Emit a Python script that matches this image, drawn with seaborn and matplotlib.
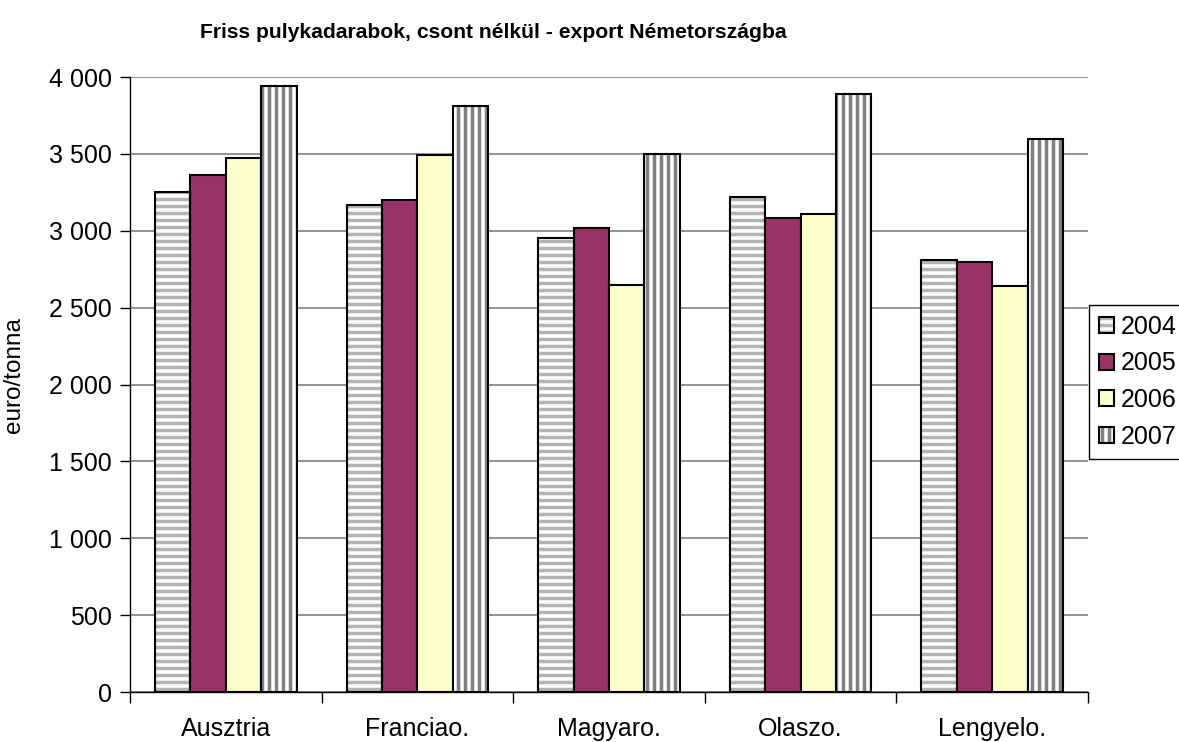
import numpy as np
import pandas as pd
import matplotlib
matplotlib.use('Agg')
import matplotlib.pyplot as plt
import seaborn as sns
from matplotlib.patches import Rectangle, Patch
from matplotlib.ticker import FuncFormatter, MultipleLocator

# adatok (euro/tonna)
countries = ['Ausztria', 'Franciao.', 'Magyaro.', 'Olaszo.', 'Lengyelo.']
years = ['2004', '2005', '2006', '2007']
v2004 = [3250, 3170, 2950, 3220, 2810]
v2005 = [3360, 3200, 3020, 3080, 2800]
v2006 = [3470, 3490, 2650, 3110, 2640]
v2007 = [3940, 3810, 3500, 3890, 3600]

# 84 dpi -> a csíkozás sűrűsége kb. 7 px; a méreteket S-sel skálázzuk
DPI = 84
S = 100 / DPI

sns.set_theme(style='white')
plt.rcParams['font.family'] = ['Liberation Sans', 'DejaVu Sans']
plt.rcParams['text.color'] = 'black'
plt.rcParams['hatch.linewidth'] = 3.0

df = pd.DataFrame({
    'orszag': countries * 4,
    'ev': np.repeat(years, len(countries)),
    'ertek': v2004 + v2005 + v2006 + v2007,
})

fig = plt.figure(figsize=(1179 / DPI, 742 / DPI), dpi=DPI)
ax = fig.add_axes([130 / 1179, 1 - 692 / 742, 958 / 1179, 615 / 742])

face = ['white', '#993366', '#FFFFCC', 'white']
sns.barplot(data=df, x='orszag', y='ertek', hue='ev', palette=face,
            width=0.74, saturation=1, errorbar=None, edgecolor='black',
            linewidth=1.5 * S, legend=False, ax=ax)

# csíkozott oszlopok: szürke csíkok, fekete keret
hatches = {0: ('--', '#b4b4b4'), 3: ('||', '#808080')}
for i, (h, c) in hatches.items():
    for bar in ax.containers[i]:
        bar.set_hatch(h)
        bar.set_edgecolor(c)
        bar.set_linewidth(0)
        ax.add_patch(Rectangle(bar.get_xy(), bar.get_width(), bar.get_height(),
                               fill=False, edgecolor='black', linewidth=1.5 * S,
                               zorder=bar.get_zorder() + 0.1))

ax.set_ylim(0, 4000)
ax.set_xlim(-0.5, len(countries) - 0.5)
ax.yaxis.set_major_locator(MultipleLocator(500))
ax.yaxis.set_major_formatter(FuncFormatter(lambda v, p: f'{int(v):,}'.replace(',', ' ')))
ax.yaxis.grid(True, color='#808080', linewidth=1.2 * S)
ax.set_axisbelow(True)

for s in ['top', 'right']:
    ax.spines[s].set_visible(False)
for s in ['left', 'bottom']:
    ax.spines[s].set_color('black')
    ax.spines[s].set_linewidth(1 * S)

ax.set_xticks(range(len(countries)))
ax.set_xticks(np.arange(-0.5, len(countries)), minor=True)
ax.tick_params(axis='x', which='major', length=0, pad=18 * S, labelsize=18 * S,
               colors='black')
ax.tick_params(axis='x', which='minor', length=8 * S, width=1 * S, color='black',
               bottom=True)
ax.tick_params(axis='y', length=7 * S, width=1 * S, color='black', left=True,
               labelsize=18 * S, pad=6 * S, labelcolor='black')
ax.set_xlabel('')
ax.set_ylabel('')

fig.text(14 / 1179, 1 - 375 / 742, 'euro/tonna', rotation=90, ha='center', va='center',
         fontsize=17.5 * S)
fig.text(493 / 1179, 1 - 32 / 742, 'Friss pulykadarabok, csont nélkül - export Németországba',
         ha='center', va='center', fontsize=15.2 * S, fontweight='bold')

# jelmagyarázat
handles = []
for i, y in enumerate(years):
    outline = Patch(facecolor='none', edgecolor='black', linewidth=1.5 * S)
    if i in hatches:
        h, c = hatches[i]
        inner = Patch(facecolor='white', hatch=h, edgecolor=c, linewidth=0)
        handles.append((inner, outline))
    else:
        handles.append(Patch(facecolor=face[i], edgecolor='black', linewidth=1.5 * S))

leg = fig.legend(handles, years, loc='upper left',
                 bbox_to_anchor=(1089 / 1179, 1 - 305 / 742),
                 frameon=True, fancybox=False, edgecolor='black', framealpha=1,
                 fontsize=18 * S, handlelength=0.6, handleheight=0.6,
                 handletextpad=0.25, labelspacing=0.5, borderpad=0.4,
                 borderaxespad=0)
leg.get_frame().set_linewidth(1 * S)

fig.savefig('out.png', dpi=DPI)
